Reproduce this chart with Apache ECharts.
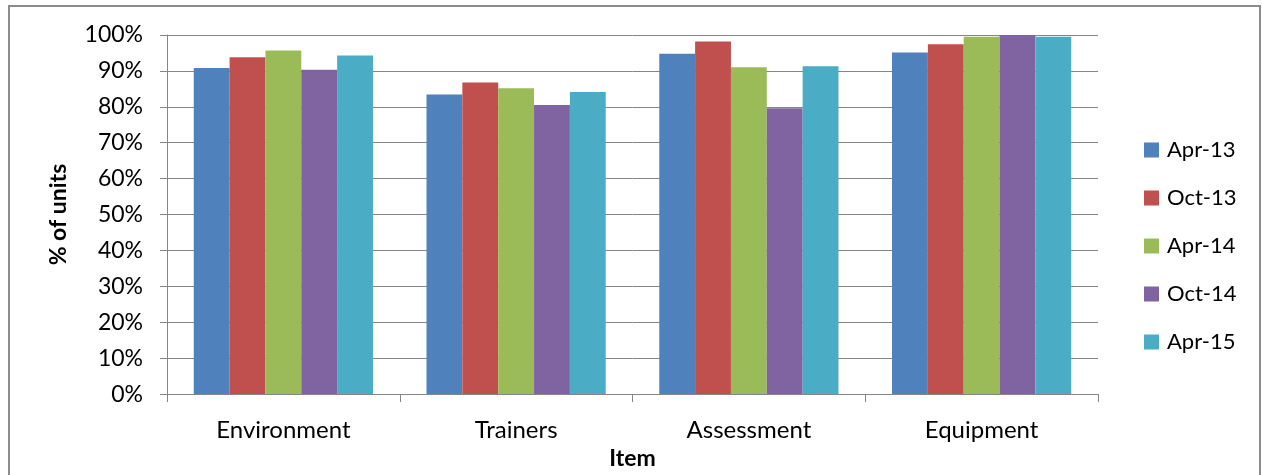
<!DOCTYPE html>
<html>
<head>
<meta charset="utf-8">
<script src="https://cdn.jsdelivr.net/npm/echarts@6/dist/echarts.min.js"></script>
<style>
  html, body { margin: 0; padding: 0; background: #fff; }
  #chart { width: 1262px; height: 475px; }
</style>
</head>
<body>
<div id="chart"></div>
<script>
// Survey results: share of units rating each item, by survey round
const categories = ['Environment', 'Trainers', 'Assessment', 'Equipment'];
const seriesNames = ['Apr-13', 'Oct-13', 'Apr-14', 'Oct-14', 'Apr-15'];
const apr13 = [0.908, 0.834, 0.948, 0.951];
const oct13 = [0.938, 0.868, 0.982, 0.974];
const apr14 = [0.957, 0.852, 0.910, 0.995];
const oct14 = [0.903, 0.805, 0.796, 1.000];
const apr15 = [0.943, 0.841, 0.913, 0.995];
const yTicks = [0, 0.1, 0.2, 0.3, 0.4, 0.5, 0.6, 0.7, 0.8, 0.9, 1.0];

const seriesValues = [apr13, oct13, apr14, oct14, apr15];
const colors = ['#4F81BD', '#C0504D', '#9BBB59', '#8064A2', '#4BACC6'];
const FONT = 'Lato, "Open Sans", sans-serif';
const GRAY = '#868686';

const chart = echarts.init(document.getElementById('chart'), null, { renderer: 'canvas' });

chart.setOption({
  animation: false,
  color: colors,
  textStyle: { fontFamily: FONT, color: '#000' },
  graphic: [{
    type: 'rect',
    shape: { x: 9, y: 6, width: 1251, height: 500 },
    style: { fill: 'none', stroke: '#8c8c8c', lineWidth: 2 },
    silent: true
  }],
  grid: { left: 167, width: 931, top: 35, height: 362, containLabel: false },
  legend: {
    orient: 'vertical',
    left: 1139,
    top: 134,
    itemWidth: 15,
    itemHeight: 15,
    itemGap: 26,
    icon: 'rect',
    textStyle: { fontFamily: FONT, fontSize: 22, lineHeight: 22, color: '#000', padding: [0, 0, 0, 3] },
    data: seriesNames
  },
  xAxis: {
    type: 'category',
    data: categories,
    name: 'Item',
    nameLocation: 'middle',
    nameGap: 51,
    nameTextStyle: { fontFamily: FONT, fontSize: 23, fontWeight: 'bold', color: '#000' },
    axisLine: { lineStyle: { color: GRAY, width: 1 } },
    axisTick: { show: true, length: 8, lineStyle: { color: GRAY } },
    axisLabel: { fontFamily: FONT, fontSize: 24, color: '#000', margin: 24 },
    splitLine: { show: false }
  },
  yAxis: {
    type: 'value',
    min: 0,
    max: 1,
    interval: 0.1,
    name: '% of units',
    nameLocation: 'middle',
    nameGap: 97,
    nameRotate: 90,
    nameTextStyle: { fontFamily: FONT, fontSize: 23, fontWeight: 'bold', color: '#000' },
    axisLine: { show: true, lineStyle: { color: GRAY, width: 1 } },
    axisTick: { show: true, length: 7, lineStyle: { color: GRAY } },
    axisLabel: {
      fontFamily: FONT, fontSize: 23, color: '#000', margin: 24,
      formatter: v => {
        const t = yTicks.find(x => Math.abs(x - v) < 1e-9);
        return Math.round((t === undefined ? v : t) * 100) + '%';
      }
    },
    splitLine: { show: true, lineStyle: { color: GRAY, width: 1 } }
  },
  series: seriesNames.map((name, i) => ({
    name,
    type: 'bar',
    data: seriesValues[i],
    barGap: '0%',
    barCategoryGap: '23%',
    itemStyle: { color: colors[i] }
  }))
});
</script>
</body>
</html>
